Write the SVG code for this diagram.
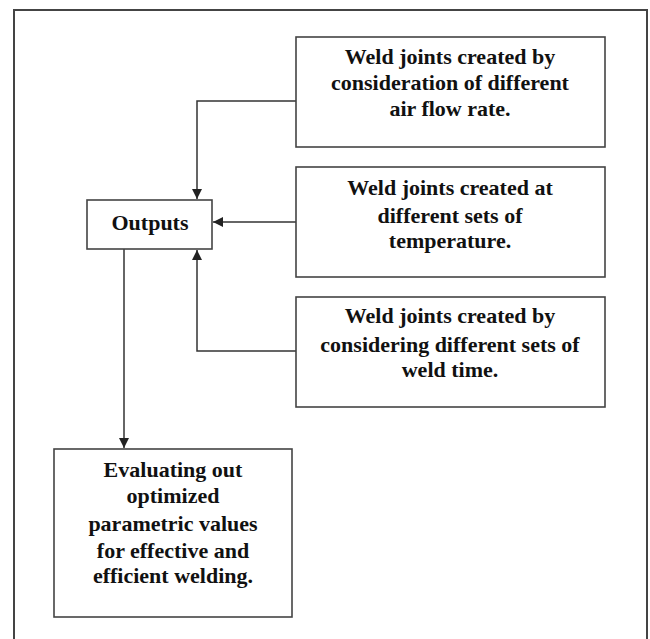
<svg xmlns="http://www.w3.org/2000/svg" width="650" height="639" viewBox="0 0 650 639">
<defs>
<marker id="arr" viewBox="0 0 10 10" refX="10" refY="5" markerWidth="10" markerHeight="10" markerUnits="userSpaceOnUse" orient="auto">
<path d="M0,0 L10,5 L0,10 Z" fill="#222"/>
</marker>
<style>
.box{fill:#fff;stroke:#444;stroke-width:1.6}
.t{font-family:"Liberation Serif","Times New Roman",serif;font-weight:bold;font-size:22px;fill:#111;text-anchor:middle}
.c{fill:none;stroke:#333;stroke-width:1.5}
</style>
</defs>
<rect width="650" height="639" fill="#fff"/>
<path d="M14,639 V10 H647 V639" fill="none" stroke="#444" stroke-width="2"/>
<g id="connectors">
<path class="c" d="M296,101 H197 V199" marker-end="url(#arr)"/>
<path class="c" d="M296,222 H213" marker-end="url(#arr)"/>
<path class="c" d="M296,351 H197 V250" marker-end="url(#arr)"/>
<path class="c" d="M124,249 V448" marker-end="url(#arr)"/>
</g>
<g id="box1">
<rect class="box" x="296" y="37" width="309" height="110"/>
<text class="t" x="450" y="64">Weld joints created by</text>
<text class="t" x="450" y="90">consideration of different</text>
<text class="t" x="450" y="116">air flow rate.</text>
</g>
<g id="box2">
<rect class="box" x="296" y="167" width="309" height="110"/>
<text class="t" x="450" y="195">Weld joints created at</text>
<text class="t" x="450" y="223">different sets of</text>
<text class="t" x="450" y="248">temperature.</text>
</g>
<g id="box3">
<rect class="box" x="296" y="297" width="309" height="110"/>
<text class="t" x="450" y="323">Weld joints created by</text>
<text class="t" x="450" y="352">considering different sets of</text>
<text class="t" x="450" y="377">weld time.</text>
</g>
<g id="outputs">
<rect class="box" x="87" y="200" width="125" height="49"/>
<text class="t" x="150" y="230">Outputs</text>
</g>
<g id="evaluate">
<rect class="box" x="54" y="449" width="238" height="168"/>
<text class="t" x="173" y="477">Evaluating out</text>
<text class="t" x="173" y="503">optimized</text>
<text class="t" x="173" y="531">parametric values</text>
<text class="t" x="173" y="558">for effective and</text>
<text class="t" x="173" y="583">efficient welding.</text>
</g>
</svg>
